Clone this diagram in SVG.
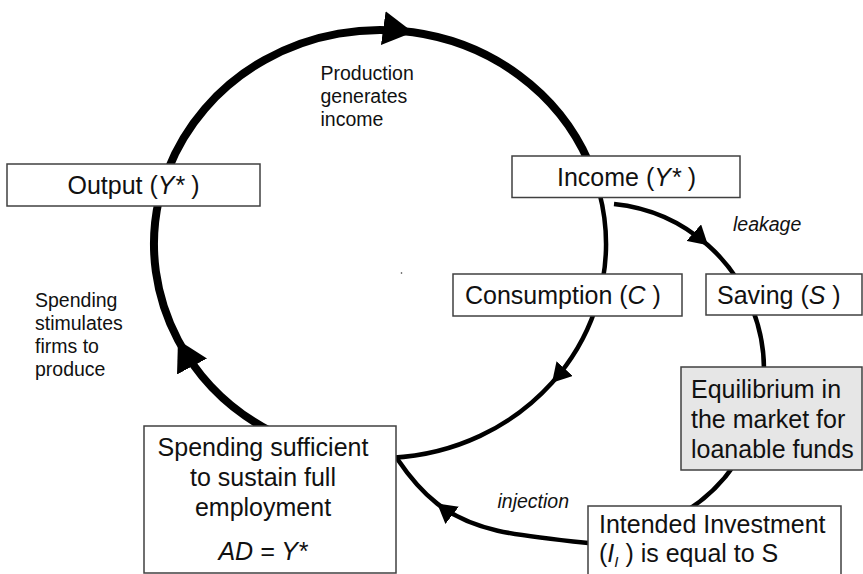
<svg xmlns="http://www.w3.org/2000/svg" width="863" height="574" viewBox="0 0 863 574">
<defs>
<style>
.box{fill:#ffffff;stroke:#404040;stroke-width:1.5}
.shade{fill:#e6e6e6}
.lbl{font-family:"Liberation Sans",Arial,sans-serif;font-size:25px;fill:#111}
.sm{font-family:"Liberation Sans",Arial,sans-serif;font-size:19.5px;fill:#111}
.it{font-style:italic}
.thick{fill:none;stroke:#000;stroke-width:8}
.thin{fill:none;stroke:#000;stroke-width:4.5}
</style>
<marker id="ahBig" markerUnits="userSpaceOnUse" viewBox="0 0 30 34" refX="30" refY="17" markerWidth="30" markerHeight="34" orient="auto"><path d="M0,0 L30,17 L0,34 z" fill="#000"/></marker>
<marker id="ahSmall" markerUnits="userSpaceOnUse" viewBox="0 0 19 22" refX="19" refY="11" markerWidth="19" markerHeight="22" orient="auto"><path d="M0,0 L19,11 L0,22 z" fill="#000"/></marker>
</defs>
<rect width="863" height="574" fill="#ffffff"/>

<g id="connectors">
<path id="e-output-income" class="thick" marker-mid="url(#ahBig)" d="M 167.9 170 A 226 214 0 0 1 413 32.3 A 226 214 0 0 1 588.8 162"/>
<path id="e-spending-output" class="thick" marker-mid="url(#ahBig)" d="M 272 432 A 226 214 0 0 1 178 340 A 226 214 0 0 1 158.8 200"/>
<path id="e-income-consumption" class="thin" d="M 599.2 192 A 226 214 0 0 1 602.8 280"/>
<path id="e-consumption-spending" class="thin" marker-mid="url(#ahSmall)" d="M 595 310 A 226 214 0 0 1 552 382.8 A 226 214 0 0 1 392 457.7"/>
<path id="e-income-saving" class="thin" marker-mid="url(#ahSmall)" d="M 614 203.9 A 167 167 0 0 1 708 245.2 A 167 167 0 0 1 737.7 280"/>
<path id="e-saving-equilibrium" class="thin" d="M 752.5 309 A 167 167 0 0 1 764 373"/>
<path id="e-equilibrium-investment" class="thin" d="M 735 464 A 167 167 0 0 1 684.9 512"/>
<path id="e-investment-spending" class="thin" marker-mid="url(#ahSmall)" d="M 590 543.3 C 515.36 535.51 473.06 531.57 437.22 503.62 C 423.29 492.75 410.33 478.25 397 458.5"/>
<circle cx="401.5" cy="273" r="0.8" fill="#333"/>
</g>

<g id="label-production">
<text class="sm" x="320.5" y="79.5">Production</text>
<text class="sm" x="320.5" y="102.8">generates</text>
<text class="sm" x="320.5" y="126">income</text>
</g>
<g id="label-spending-stimulates">
<text class="sm" x="35" y="307.3">Spending</text>
<text class="sm" x="35" y="330.3">stimulates</text>
<text class="sm" x="35" y="353.3">firms to</text>
<text class="sm" x="35" y="376.3">produce</text>
</g>
<g id="label-leakage"><text class="sm it" x="733" y="230.5">leakage</text></g>
<g id="label-injection"><text class="sm it" x="497.5" y="507.5">injection</text></g>

<g id="node-output">
<rect class="box" x="7" y="164" width="253" height="42"/>
<text class="lbl" x="133.5" y="194" text-anchor="middle">Output (<tspan class="it">Y*</tspan> )</text>
</g>
<g id="node-income">
<rect class="box" x="512" y="156" width="228" height="41.5"/>
<text class="lbl" x="626.5" y="185.5" text-anchor="middle">Income (<tspan class="it">Y*</tspan> )</text>
</g>
<g id="node-consumption">
<rect class="box" x="453" y="274" width="229" height="42"/>
<text class="lbl" x="465" y="304">Consumption (<tspan class="it">C</tspan> )</text>
</g>
<g id="node-saving">
<rect class="box" x="706" y="274" width="156" height="41"/>
<text class="lbl" x="717" y="304">Saving (<tspan class="it">S</tspan> )</text>
</g>
<g id="node-equilibrium">
<rect class="box shade" x="681" y="367" width="181" height="103"/>
<text class="lbl" x="691" y="398">Equilibrium in</text>
<text class="lbl" x="691" y="428">the market for</text>
<text class="lbl" x="691" y="457.5">loanable funds</text>
</g>
<g id="node-investment">
<rect class="box" x="588" y="506" width="253" height="80"/>
<text class="lbl" x="599" y="533">Intended Investment</text>
<text class="lbl" x="599" y="562">(<tspan class="it">I</tspan><tspan class="it" font-size="15" dy="5">I</tspan><tspan dy="-5"> ) is equal to S</tspan></text>
</g>
<g id="node-spending">
<rect class="box" x="144" y="426" width="252" height="147"/>
<text class="lbl" x="263" y="456" text-anchor="middle">Spending sufficient</text>
<text class="lbl" x="263" y="486" text-anchor="middle">to sustain full</text>
<text class="lbl" x="263" y="516" text-anchor="middle">employment</text>
<text class="lbl it" x="263" y="560" text-anchor="middle">AD = Y*</text>
</g>
</svg>
